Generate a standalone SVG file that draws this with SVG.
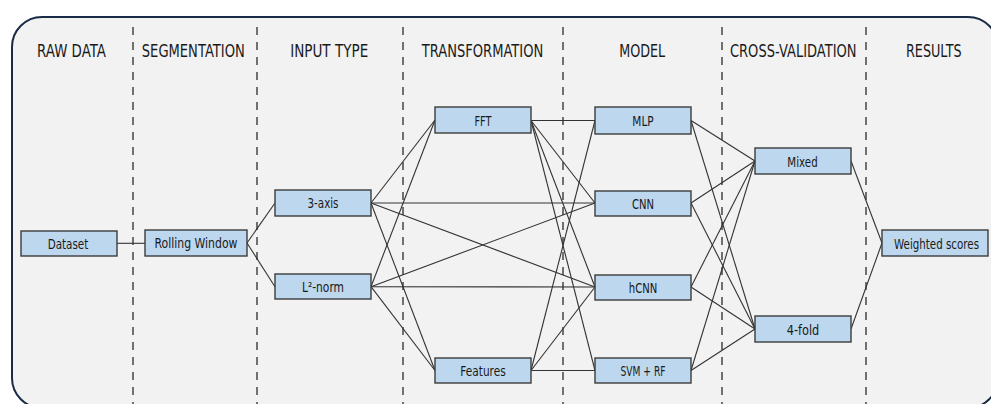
<svg xmlns="http://www.w3.org/2000/svg" width="991" height="404" viewBox="0 0 991 404">
<style>
.hdr{font-family:"DejaVu Sans","Liberation Sans",sans-serif;font-size:18px;fill:#1a1a1a;text-anchor:middle}
.lbl{font-family:"DejaVu Sans","Liberation Sans",sans-serif;font-size:14px;fill:#1a1a1a;text-anchor:middle}
.box{fill:#bdd7ee;stroke:#3c3c3c;stroke-width:1.4}
.div{stroke:#707070;stroke-width:2;stroke-dasharray:8 7;fill:none}
#connectors line{stroke:#333;stroke-width:1.1}
</style>
<rect x="0" y="0" width="991" height="404" fill="#ffffff"/>
<rect x="12" y="17" width="986" height="391" rx="30" ry="30" fill="#f2f2f2" stroke="#1b2a47" stroke-width="2"/>
<g id="dividers">
<line class="div" x1="133" y1="27" x2="133" y2="404"/>
<line class="div" x1="257" y1="27" x2="257" y2="404"/>
<line class="div" x1="403" y1="27" x2="403" y2="404"/>
<line class="div" x1="563" y1="27" x2="563" y2="404"/>
<line class="div" x1="722" y1="27" x2="722" y2="404"/>
<line class="div" x1="866" y1="27" x2="866" y2="404"/>
</g>
<g id="headers">
<text class="hdr" x="71.5" y="56.5" textLength="69" lengthAdjust="spacingAndGlyphs">RAW DATA</text>
<text class="hdr" x="193.3" y="56.5" textLength="103" lengthAdjust="spacingAndGlyphs">SEGMENTATION</text>
<text class="hdr" x="329.2" y="56.5" textLength="78" lengthAdjust="spacingAndGlyphs">INPUT TYPE</text>
<text class="hdr" x="482.5" y="56.5" textLength="121.6" lengthAdjust="spacingAndGlyphs">TRANSFORMATION</text>
<text class="hdr" x="642.2" y="56.5" textLength="46" lengthAdjust="spacingAndGlyphs">MODEL</text>
<text class="hdr" x="793.3" y="56.5" textLength="126.7" lengthAdjust="spacingAndGlyphs">CROSS-VALIDATION</text>
<text class="hdr" x="933.8" y="56.5" textLength="55.7" lengthAdjust="spacingAndGlyphs">RESULTS</text>
</g>
<g id="connectors">
<line x1="117" y1="243.3" x2="145" y2="243.3"/>
<line x1="247" y1="243" x2="275" y2="203"/>
<line x1="247" y1="243" x2="275" y2="286.7"/>
<line x1="371" y1="203" x2="435" y2="120"/>
<line x1="371" y1="203" x2="595" y2="203"/>
<line x1="371" y1="203" x2="595" y2="287"/>
<line x1="371" y1="203" x2="435" y2="370.5"/>
<line x1="371" y1="286.7" x2="435" y2="120"/>
<line x1="371" y1="286.7" x2="595" y2="203"/>
<line x1="371" y1="286.7" x2="595" y2="287"/>
<line x1="371" y1="286.7" x2="435" y2="370.5"/>
<line x1="531" y1="120.5" x2="595" y2="120.5"/>
<line x1="531" y1="120.5" x2="595" y2="203"/>
<line x1="531" y1="120.5" x2="595" y2="287"/>
<line x1="531" y1="120.5" x2="595" y2="370.5"/>
<line x1="531" y1="370.5" x2="595" y2="120.5"/>
<line x1="531" y1="370.5" x2="595" y2="287"/>
<line x1="531" y1="370.5" x2="595" y2="370.5"/>
<line x1="691" y1="120.5" x2="755" y2="161"/>
<line x1="691" y1="120.5" x2="755" y2="329"/>
<line x1="691" y1="203" x2="755" y2="161"/>
<line x1="691" y1="203" x2="755" y2="329"/>
<line x1="691" y1="287" x2="755" y2="161"/>
<line x1="691" y1="287" x2="755" y2="329"/>
<line x1="691" y1="370.5" x2="755" y2="161"/>
<line x1="691" y1="370.5" x2="755" y2="329"/>
<line x1="851" y1="161" x2="882" y2="243"/>
<line x1="851" y1="329" x2="882" y2="243"/>
</g>
<g id="node-dataset"><rect class="box" x="21" y="231" width="96" height="25"/><text class="lbl" x="68" y="248.8" textLength="40.6" lengthAdjust="spacingAndGlyphs">Dataset</text></g>
<g id="node-rolling-window"><rect class="box" x="145" y="230" width="102" height="26"/><text class="lbl" x="196" y="248.3" textLength="83" lengthAdjust="spacingAndGlyphs">Rolling Window</text></g>
<g id="node-3-axis"><rect class="box" x="275" y="190" width="96" height="26"/><text class="lbl" x="323" y="208.3" textLength="31" lengthAdjust="spacingAndGlyphs">3-axis</text></g>
<g id="node-l2-norm"><rect class="box" x="275" y="274" width="96" height="25"/><text class="lbl" x="323" y="292" textLength="42" lengthAdjust="spacingAndGlyphs">L²-norm</text></g>
<g id="node-fft"><rect class="box" x="435" y="107" width="96" height="26"/><text class="lbl" x="483" y="125.5" textLength="17" lengthAdjust="spacingAndGlyphs">FFT</text></g>
<g id="node-features"><rect class="box" x="435" y="358" width="96" height="25"/><text class="lbl" x="483" y="376" textLength="45.3" lengthAdjust="spacingAndGlyphs">Features</text></g>
<g id="node-mlp"><rect class="box" x="595" y="107" width="96" height="27"/><text class="lbl" x="643" y="125.8" textLength="21.3" lengthAdjust="spacingAndGlyphs">MLP</text></g>
<g id="node-cnn"><rect class="box" x="595" y="191" width="96" height="25"/><text class="lbl" x="643" y="208.5" textLength="22" lengthAdjust="spacingAndGlyphs">CNN</text></g>
<g id="node-hcnn"><rect class="box" x="595" y="275" width="96" height="25"/><text class="lbl" x="643" y="292.5" textLength="28.5" lengthAdjust="spacingAndGlyphs">hCNN</text></g>
<g id="node-svm-rf"><rect class="box" x="595" y="358" width="96" height="25"/><text class="lbl" x="643" y="376" textLength="45" lengthAdjust="spacingAndGlyphs">SVM + RF</text></g>
<g id="node-mixed"><rect class="box" x="755" y="148" width="96" height="26"/><text class="lbl" x="802.5" y="166.5" textLength="30.3" lengthAdjust="spacingAndGlyphs">Mixed</text></g>
<g id="node-4-fold"><rect class="box" x="755" y="316" width="96" height="26"/><text class="lbl" x="803" y="334.5" textLength="32.6" lengthAdjust="spacingAndGlyphs">4-fold</text></g>
<g id="node-weighted-scores"><rect class="box" x="882" y="230" width="106" height="26"/><text class="lbl" transform="translate(936.5 248.5) scale(0.736 1)" x="0" y="0">Weighted scores</text></g>
</svg>
